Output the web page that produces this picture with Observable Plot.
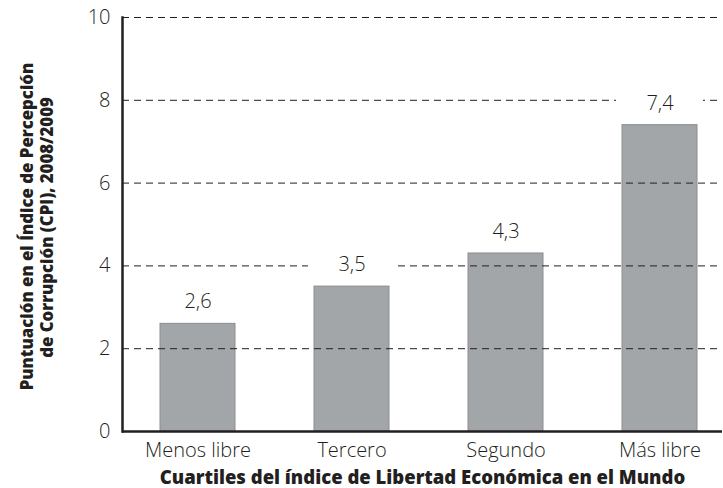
<!DOCTYPE html>
<html><head><meta charset="utf-8">
<script src="https://cdn.jsdelivr.net/npm/d3@7"></script>
<script src="https://cdn.jsdelivr.net/npm/@observablehq/plot@0.6"></script>
<style>body{margin:0;background:#fff} #chart svg{font-family:"Open Sans",Lato,sans-serif;color:#231f20}</style>
</head><body><div id="chart"></div>
<script>
const categories = ["Menos libre", "Tercero", "Segundo", "Más libre"];
const values = [2.6, 3.5, 4.3, 7.4];
const valueLabels = ["2,6", "3,5", "4,3", "7,4"];
const yTicks = [0, 2, 4, 6, 8, 10];
const yTitleLines = ["Puntuación en el Índice de Percepción", "de Corrupción (CPI), 2008/2009"];
const xTitle = "Cuartiles del índice de Libertad Económica en el Mundo";

const data = categories.map((c, i) => ({category: c, value: values[i], label: valueLabels[i]}));
const ink = "#231f20";

const chart = Plot.plot({
  width: 723,
  height: 488,
  marginLeft: 122,
  marginRight: 1,
  marginTop: 17,
  marginBottom: 57,
  style: {background: "#fff", color: ink},
  x: {domain: categories, padding: 0.513, paddingOuter: 0.2045, align: 0.603, label: null},
  y: {domain: [0, 10], label: null},
  marks: [
    Plot.barY(data, {x: "category", y: "value", fill: "#a3a6a9", stroke: "#8b8e91", strokeWidth: 1}),
    Plot.ruleY(yTicks.filter(t => t > 0), {stroke: ink, strokeWidth: 1, strokeDasharray: "7,5"}),
    Plot.barY(data, {x: "category", y1: "value", y2: "value", fill: "#fff", insetTop: -34, insetBottom: 10, insetLeft: -6, insetRight: -6}),
    Plot.text(data, {x: "category", y: "value", text: "label", dy: -22, fontSize: 20, fontWeight: 300, fill: ink}),
    Plot.ruleY([0], {stroke: ink, strokeWidth: 2.5}),
    Plot.frame({anchor: "left", stroke: ink, strokeWidth: 2.5}),
    Plot.axisY({ticks: yTicks, tickSize: 0, tickPadding: 12, fontSize: 20, fontWeight: 300, label: null}),
    Plot.axisX({tickSize: 0, tickPadding: 11, fontSize: 20, fontWeight: 300, label: null}),
    Plot.text([yTitleLines[0]], {frameAnchor: "left", textAnchor: "middle", lineAnchor: "middle", rotate: -90, dx: -95, dy: 2, fontSize: 16.8, fontWeight: 800, fill: ink}),
    Plot.text([yTitleLines[1]], {frameAnchor: "left", textAnchor: "middle", lineAnchor: "middle", rotate: -90, dx: -75, dy: 3, fontSize: 16.8, fontWeight: 800, fill: ink}),
    Plot.text([xTitle], {frameAnchor: "bottom", textAnchor: "middle", lineAnchor: "middle", dy: 47, fontSize: 18.5, fontWeight: 800, fill: ink})
  ]
});
document.getElementById("chart").appendChild(chart);
</script>
</body></html>
